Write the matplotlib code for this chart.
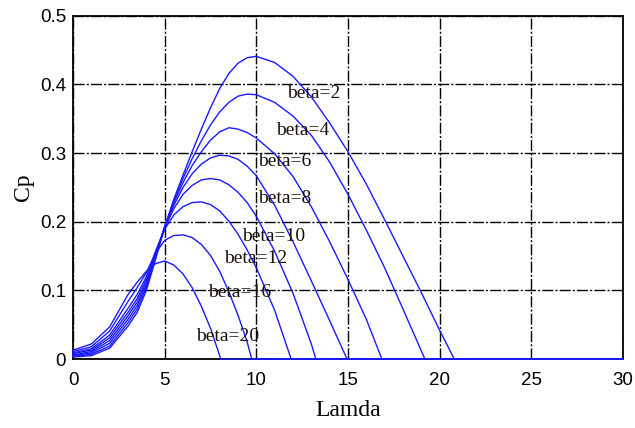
import numpy as np
from matplotlib import pyplot as plt

# Cp x Lamda para varios angulos de passo (beta)
lam = [0, 1, 2, 3, 3.5, 4, 4.5, 5, 5.5, 6, 6.5, 7, 7.5, 8, 8.5, 9, 9.5, 10,
       11, 12, 13, 14, 15, 16, 17, 18, 19, 20]

betas = [2, 4, 6, 8, 10, 12, 16, 20]

cp_b2 = [0.003, 0.005, 0.016, 0.048, 0.068, 0.100, 0.145, 0.192, 0.233, 0.268,
         0.302, 0.335, 0.366, 0.394, 0.416, 0.431, 0.439, 0.441, 0.432, 0.412,
         0.382, 0.344, 0.302, 0.255, 0.203, 0.150, 0.097, 0.042]
cp_b4 = [0.004, 0.007, 0.019, 0.053, 0.073, 0.104, 0.148, 0.193, 0.231, 0.263,
         0.292, 0.318, 0.341, 0.360, 0.374, 0.383, 0.386, 0.385, 0.374, 0.354,
         0.326, 0.287, 0.240, 0.188, 0.133, 0.073, 0.012]
cp_b6 = [0.005, 0.009, 0.023, 0.058, 0.078, 0.108, 0.151, 0.193, 0.228, 0.257,
         0.282, 0.302, 0.319, 0.331, 0.337, 0.335, 0.330, 0.322, 0.299, 0.266,
         0.222, 0.171, 0.116, 0.058]
cp_b8 = [0.006, 0.011, 0.027, 0.063, 0.083, 0.112, 0.153, 0.192, 0.224, 0.250,
         0.270, 0.284, 0.293, 0.297, 0.296, 0.291, 0.281, 0.267, 0.224, 0.171,
         0.114, 0.056]
cp_b10 = [0.008, 0.013, 0.031, 0.068, 0.088, 0.116, 0.155, 0.191, 0.219, 0.240,
          0.253, 0.261, 0.263, 0.261, 0.254, 0.243, 0.228, 0.208, 0.157, 0.096,
          0.022]
cp_b12 = [0.009, 0.015, 0.035, 0.074, 0.094, 0.120, 0.157, 0.189, 0.210, 0.222,
          0.228, 0.229, 0.225, 0.216, 0.201, 0.182, 0.159, 0.133, 0.071]
cp_b16 = [0.011, 0.018, 0.041, 0.084, 0.104, 0.126, 0.154, 0.173, 0.180, 0.181,
          0.177, 0.167, 0.151, 0.128, 0.098, 0.064, 0.025]
cp_b20 = [0.013, 0.022, 0.047, 0.094, 0.112, 0.128, 0.139, 0.143, 0.137, 0.124,
          0.104, 0.077, 0.045, 0.005]

# onde cada curva chega a zero (depois fica em zero ate 30)
lam_zero = [20.8, 19.2, 16.85, 14.95, 13.25, 11.9, 9.75, 8.05]

# posicao dos rotulos
lab_x = [11.65, 11.1, 10.07, 10.12, 9.22, 8.22, 7.35, 6.72]
lab_y = [0.387, 0.333, 0.288, 0.234, 0.179, 0.146, 0.097, 0.033]

curvas = [cp_b2, cp_b4, cp_b6, cp_b8, cp_b10, cp_b12, cp_b16, cp_b20]

fig = plt.figure(figsize=(6.35, 4.28), dpi=100)
ax = fig.add_axes([0.115, 0.161, 0.866, 0.802])

for cp, z in zip(curvas, lam_zero):
    x = lam[:len(cp)] + [z, 30]
    y = cp + [0, 0]
    ax.plot(x, y, color='#1a1aff', lw=1.0, zorder=3, clip_on=False)

for b, tx, ty in zip(betas, lab_x, lab_y):
    ax.text(tx, ty, "beta=" + str(b), ha='left', va='center',
            family='Liberation Serif', fontsize=14, color='#1a1008', zorder=4)

ax.set_xlim(0, 30)
ax.set_ylim(0, 0.5)
ax.set_xticks([0, 5, 10, 15, 20, 25, 30])
ax.set_yticks([0, 0.1, 0.2, 0.3, 0.4, 0.5])
ax.set_yticklabels(['0', '0.1', '0.2', '0.3', '0.4', '0.5'])
ax.grid(True, color='black', lw=1.0, linestyle=(0, (8, 1.5, 1.5, 1.5)))
ax.tick_params(direction='in', length=0, labelsize=13.5)
ax.tick_params(axis='x', pad=9)
ax.tick_params(axis='y', pad=5)
for t in ax.get_xticklabels() + ax.get_yticklabels():
    t.set_family('Liberation Sans')
for s in ax.spines.values():
    s.set_linewidth(1.3)

ax.set_xlabel("Lamda", family='Liberation Serif', fontsize=17, labelpad=8)
ax.set_ylabel("Cp", family='Liberation Serif', fontsize=17, labelpad=4)

fig.savefig("out.png", dpi=100)
